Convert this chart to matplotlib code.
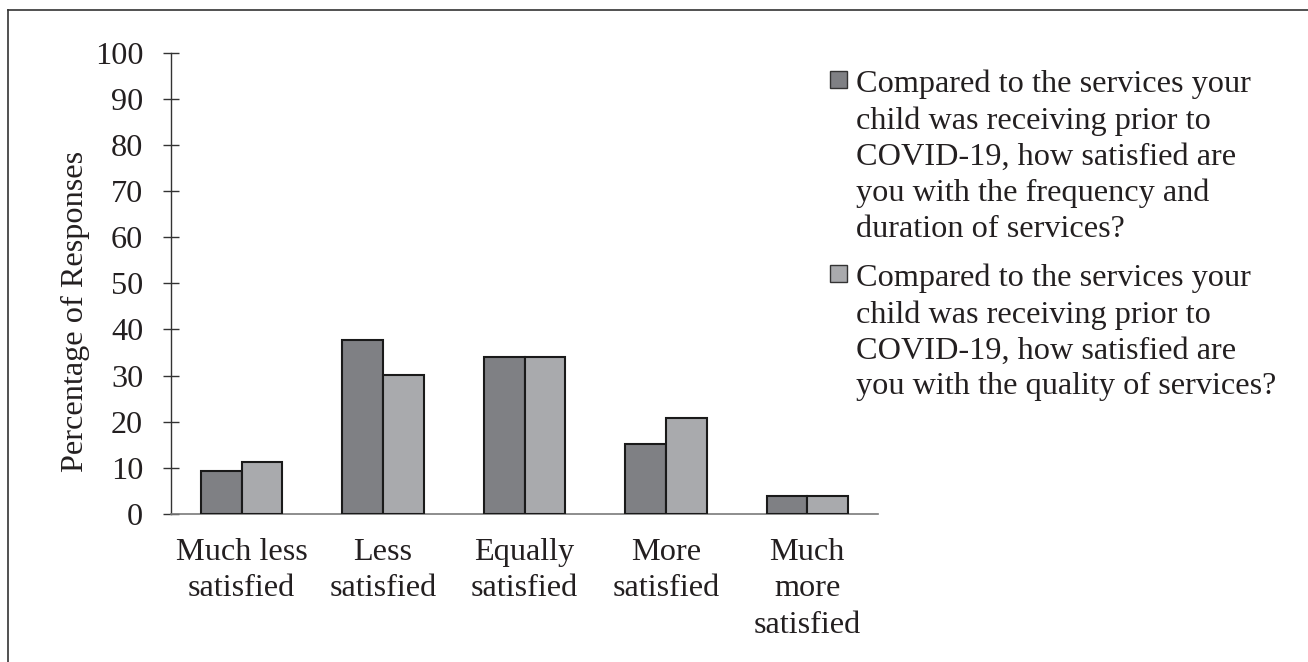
import matplotlib
matplotlib.use("Agg")
import matplotlib.pyplot as plt
import numpy as np
from matplotlib.patches import Rectangle
from matplotlib.lines import Line2D

plt.rcParams['font.family'] = ['Liberation Serif', 'DejaVu Serif']

categories = ["Much less\nsatisfied", "Less\nsatisfied", "Equally\nsatisfied",
              "More\nsatisfied", "Much\nmore\nsatisfied"]
frequency_duration = [9.4, 37.7, 34.0, 15.1, 3.8]
quality = [11.3, 30.2, 34.0, 20.8, 3.8]
series_labels = [
    "Compared to the services your\nchild was receiving prior to\nCOVID-19, how satisfied are\nyou with the frequency and\nduration of services?",
    "Compared to the services your\nchild was receiving prior to\nCOVID-19, how satisfied are\nyou with the quality of services?",
]
y_ticks = list(range(0, 101, 10))

dark = "#7f8084"
light = "#a9aaad"
text_color = "#231f20"
FS = 23.2

W, H = 1308, 662
fig = plt.figure(figsize=(W / 100, H / 100), dpi=100)
ax = fig.add_axes([171 / W, 1 - 514 / H, (878 - 171) / W, (514 - 52.7) / H])

x = np.arange(len(categories))
bw = 0.288
ax.bar(x - bw / 2, frequency_duration, bw, color=dark, edgecolor="#1a1a1a", linewidth=1.5, zorder=3)
ax.bar(x + bw / 2, quality, bw, color=light, edgecolor="#1a1a1a", linewidth=1.5, zorder=3)

ax.set_xlim(-0.5, len(categories) - 0.5)
ax.set_ylim(0, 100)
ax.set_yticks(y_ticks)
ax.set_xticks(x)
ax.set_xticklabels(categories, fontsize=FS, color=text_color, linespacing=1.34)
ax.tick_params(axis="x", length=0, pad=17)
ax.tick_params(axis="y", direction="inout", length=12, width=1.0, color="#333333",
               labelsize=FS, labelcolor=text_color, pad=14)
for s in ["top", "right"]:
    ax.spines[s].set_visible(False)
ax.spines["left"].set_color("#333333")
ax.spines["left"].set_linewidth(1.0)
ax.spines["bottom"].set_color("#7a7a7a")
ax.spines["bottom"].set_linewidth(1.2)
ax.set_ylabel("Percentage of Responses", fontsize=FS, color=text_color)
ax.yaxis.set_label_coords(-0.114, 0.44)

# legend: square swatches aligned with the first line of each label
def px(xp, yp):
    return xp / W, 1 - yp / H

entries = [(dark, series_labels[0], 70.5), (light, series_labels[1], 264.5)]
for col, lab, ytop in entries:
    x0, y0 = px(830, ytop + 17)
    fig.add_artist(Rectangle((x0, y0), 17 / W, 17 / H, transform=fig.transFigure,
                             facecolor=col, edgecolor="#333333", linewidth=1.0))
    tx, ty = px(856, ytop - 1)
    fig.text(tx, ty, lab, fontsize=FS, color=text_color, va="top", ha="left", linespacing=1.315)

# outer frame
fig.add_artist(Line2D([8 / W, 8 / W], [0, 1 - 10 / H], transform=fig.transFigure,
                      color="#333333", linewidth=1.2))
fig.add_artist(Line2D([8 / W, 1], [1 - 10 / H, 1 - 10 / H], transform=fig.transFigure,
                      color="#333333", linewidth=1.2))

fig.savefig("out.png", dpi=100)
